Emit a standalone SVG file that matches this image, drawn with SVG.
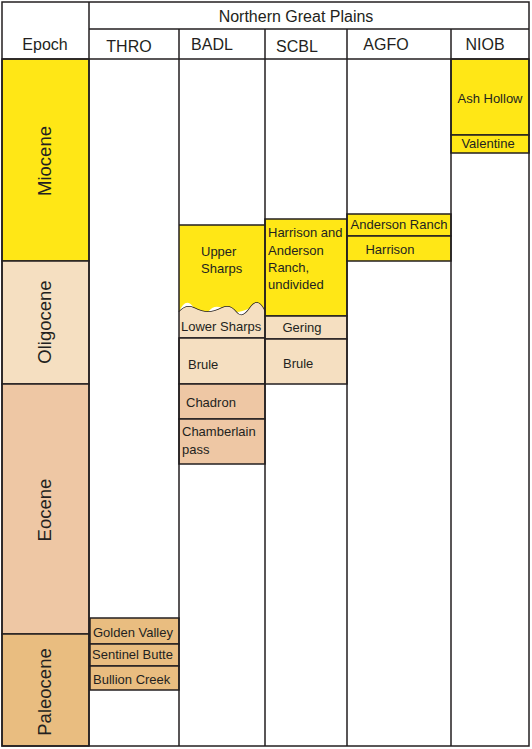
<svg xmlns="http://www.w3.org/2000/svg" width="532" height="749" viewBox="0 0 532 749">
<style>
.ln{stroke:#231F20;stroke-width:1.5;fill:none}
.b{stroke:#231F20;stroke-width:1.5}
.mio{fill:#FFE716}
.oli{fill:#F5DFC1}
.eoc{fill:#EEC7A4}
.pal{fill:#E9BD80}
text{font-family:"Liberation Sans",Arial,sans-serif;font-size:13px;fill:#231F20}
.h{font-size:16px}
.ep{font-size:18.5px}
.m{text-anchor:middle}
</style>
<rect x="0" y="0" width="532" height="749" fill="#fff"/>
<g id="epochs">
<g id="miocene"><rect class="mio b" x="2" y="59" width="87" height="202"/><text class="ep m" transform="translate(51,161) rotate(-90)">Miocene</text></g>
<g id="oligocene"><rect class="oli b" x="2" y="261" width="87" height="123"/><text class="ep m" transform="translate(51,322) rotate(-90)">Oligocene</text></g>
<g id="eocene"><rect class="eoc b" x="2" y="384" width="87" height="250"/><text class="ep m" transform="translate(51,510) rotate(-90)">Eocene</text></g>
<g id="paleocene"><rect class="pal b" x="2" y="634" width="87" height="112"/><text class="ep m" transform="translate(51,692) rotate(-90)">Paleocene</text></g>
</g>
<g id="thro">
<g id="golden-valley"><rect class="pal b" x="90" y="618" width="89" height="26"/><text x="93" y="637">Golden Valley</text></g>
<g id="sentinel-butte"><rect class="pal b" x="90" y="644" width="89" height="22"/><text x="92" y="659">Sentinel Butte</text></g>
<g id="bullion-creek"><rect class="pal b" x="90" y="666" width="89" height="24"/><text x="93" y="684">Bullion Creek</text></g>
</g>
<g id="badl">
<g id="upper-sharps"><path class="mio" d="M179,225 H265 V312 Q258,304 250,308 T236,312 T222,308 T208,312 T194,308 T179,312 Z"/><path class="ln" d="M179,225 H265 M179,312 Q186,304 194,308 T208,312 T222,308 T236,312 T250,308 T265,312"/><text x="201" y="256">Upper</text><text x="201" y="273">Sharps</text></g>
<g id="lower-sharps"><path class="oli" d="M179,312 Q186,304 194,308 T208,312 T222,308 T236,312 T250,308 T265,312 V338 H179 Z"/><path class="ln" d="M179,338 H265"/><text x="181" y="331">Lower Sharps</text></g>
<g id="brule-badl"><rect class="oli b" x="179" y="338" width="86" height="46"/><text x="188" y="369">Brule</text></g>
<g id="chadron"><rect class="eoc b" x="179" y="384" width="86" height="35"/><text x="186" y="407">Chadron</text></g>
<g id="chamberlain-pass"><rect class="eoc b" x="179" y="419" width="86" height="45"/><text x="182" y="436">Chamberlain</text><text x="182" y="454">pass</text></g>
</g>
<g id="scbl">
<g id="harrison-anderson"><rect class="mio b" x="265" y="219" width="82" height="97"/><text x="268" y="237">Harrison and</text><text x="268" y="255">Anderson</text><text x="268" y="272">Ranch,</text><text x="268" y="289">undivided</text></g>
<g id="gering"><rect class="oli b" x="265" y="316" width="82" height="23"/><text class="m" x="302" y="332">Gering</text></g>
<g id="brule-scbl"><rect class="oli b" x="265" y="339" width="82" height="45"/><text x="283" y="368">Brule</text></g>
</g>
<g id="agfo">
<g id="anderson-ranch"><rect class="mio b" x="347" y="214" width="104" height="22"/><text class="m" x="399" y="229">Anderson Ranch</text></g>
<g id="harrison-agfo"><rect class="mio b" x="347" y="236" width="104" height="25"/><text class="m" x="390" y="254">Harrison</text></g>
</g>
<g id="niob">
<g id="ash-hollow"><rect class="mio b" x="451" y="59" width="78" height="76"/><text class="m" x="490" y="103">Ash Hollow</text></g>
<g id="valentine"><rect class="mio b" x="451" y="135" width="78" height="18"/><text class="m" x="488" y="148">Valentine</text></g>
</g>
<g id="grid">
<rect class="ln" x="2" y="2" width="527" height="744"/>
<path class="ln" d="M89,29 H529 M2,59 H529 M89,2 V746 M179,29 V746 M265,29 V746 M347,29 V746 M451,29 V746"/>
</g>
<g id="headers">
<text class="h m" x="296" y="22">Northern Great Plains</text>
<text class="h m" x="45" y="50">Epoch</text>
<text class="h m" x="129" y="52">THRO</text>
<text class="h m" x="212" y="50">BADL</text>
<text class="h m" x="297" y="52">SCBL</text>
<text class="h m" x="386" y="50">AGFO</text>
<text class="h m" x="485" y="50">NIOB</text>
</g>
</svg>
